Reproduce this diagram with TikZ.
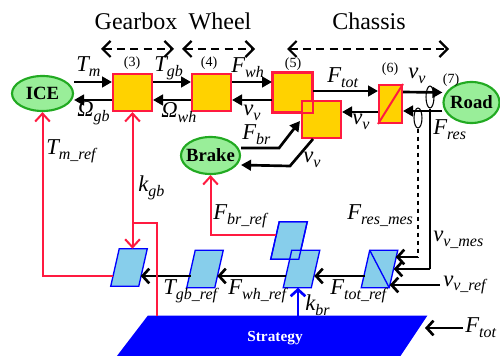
\documentclass[tikz,border=0pt]{standalone}
\usepackage{fontspec}
\setmainfont{Liberation Serif}
\usetikzlibrary{arrows.meta,shapes.geometric,calc}
\definecolor{boxy}{HTML}{FFD200}
\definecolor{boxr}{HTML}{FF1A40}
\definecolor{gfill}{HTML}{99EE99}
\definecolor{gline}{HTML}{22AA22}
\definecolor{pgfillc}{HTML}{87CEEB}
\definecolor{bluec}{HTML}{0000FF}
\definecolor{redln}{HTML}{FF1A40}
\newcommand\lbl[2]{{\fontsize{17}{18}\selectfont\itshape #1\raisebox{-0.22em}{\fontsize{12}{12}\selectfont #2}}}
\newcommand\pgdraw[1]{\draw[fill=pgfillc, draw=bluec, line width=1pt] (#1.south west) -- ($(#1.north west)+(8.5,0)$) -- (#1.north east) -- ($(#1.south east)+(-8.5,0)$) -- cycle;}
\begin{document}
\begin{tikzpicture}[x=0.75pt,y=-0.75pt,
  blk/.style={rectangle, fill=boxy, draw=boxr, line width=1.5pt, inner sep=0pt},
  ell/.style={ellipse, fill=gfill, draw=gline, line width=1.6pt, inner sep=0pt},
  etxt/.style={font=\fontsize{14}{16}\selectfont\bfseries, inner sep=0pt},
  pgm/.style={rectangle, inner sep=0pt, minimum width=27pt, minimum height=27.75pt},
  fa/.style={line width=2pt, -{Triangle[length=7.5pt,width=8pt]}},
  ba/.style={line width=2pt, -{Straight Barb[length=5pt,width=11pt]}},
  rline/.style={draw=redln, line width=1.5pt},
  ra/.style={rline, -{Straight Barb[length=6pt,width=11pt]}},
  hdr/.style={font=\fontsize{18}{20}\selectfont},
  num/.style={font=\fontsize{10.5}{12}\selectfont},
  lb/.style={anchor=west, inner sep=0pt},
  darr/.style={line width=1.6pt, dash pattern=on 6pt off 4pt, {Straight Barb[length=6pt,width=12pt]}-{Straight Barb[length=6pt,width=12pt]}},
  sens/.style={ellipse, draw, line width=0.8pt, inner sep=0pt}
]
\useasboundingbox (0,0) rectangle (500,356);

% headers
\node[hdr] (hg) at (136,21) {Gearbox};
\node[hdr] (hw) at (220,21) {Wheel};
\node[hdr] (hc) at (369,21) {Chassis};
\coordinate (g1) at (101,49); \coordinate (g2) at (174,49);
\coordinate (w1) at (182,49); \coordinate (w2) at (255,49);
\coordinate (c1) at (287,49); \coordinate (c2) at (449,49);
\draw[darr] (g1) -- (g2);
\draw[darr] (w1) -- (w2);
\draw[darr] (c1) -- (c2);

% main blocks
\node[ell, minimum width=45.75pt, minimum height=26.25pt] (ice) at (42.5,93.5) {};
\node[etxt] (icet) at (ice) {ICE};
\node[blk, minimum width=29.25pt, minimum height=27.75pt] (b3) at (132.5,92.5) {};
\node[blk, minimum width=29.25pt, minimum height=27.75pt] (b4) at (211.5,92.5) {};
\node[blk, minimum width=29.25pt, minimum height=29.25pt] (b5) at (292.5,92.5) {};
\node[blk, minimum width=29.25pt, minimum height=27.75pt] (b5b) at (321.5,119.5) {};
\draw[draw=boxr, line width=1.5pt] (b5.south west) rectangle (b5.north east);
\node[blk, minimum width=17.25pt, minimum height=28.5pt] (b6) at (390.5,104) {};
\draw[draw=boxr, line width=1.5pt] (b6.south west) -- (b6.north east);
\node[ell, minimum width=42pt, minimum height=30.75pt] (road) at (471.5,102.5) {};
\node[etxt] (roadt) at (road) {Road};
\node[ell, minimum width=44.25pt, minimum height=27.75pt] (brake) at (210.5,155.5) {};
\node[etxt] (braket) at (brake) {Brake};

% numbers
\node[num] (n3) at (132,63) {(3)};
\node[num] (n4) at (209,63) {(4)};
\node[num] (n5) at (293,64) {(5)};
\node[num] (n6) at (390,69) {(6)};
\node[num] (n7) at (451,80) {(7)};

% physical arrows
\draw[fa] ($(ice.east)+(0,-11.5)$) -- ($(b3.west)+(0,-10.5)$);
\draw[fa] ($(b3.west)+(0,7.5)$) -- ($(ice.east)+(0,6.5)$);
\draw[fa] ($(b3.east)+(0,-10.5)$) -- ($(b4.west)+(0,-10.5)$);
\draw[fa] ($(b4.west)+(0,7.5)$) -- ($(b3.east)+(0,7.5)$);
\draw[fa] ($(b4.east)+(0,-10.5)$) -- ($(b5.west)+(0,-10.5)$);
\draw[fa] ($(b5.west)+(0,7.5)$) -- ($(b4.east)+(0,7.5)$);
\draw[fa] ($(b5.east)+(0,-1.5)$) -- ($(b6.west)+(0,-13)$);
\draw[fa] ($(b6.west)+(0,8)$) -- ($(b5b.east)+(0,-7.5)$);
\draw[fa] ($(b6.east)+(0,-12)$) -- ($(road.west)+(0,-10)$);
\draw[fa] ($(road.west)+(0,8.5)$) -- ($(b6.east)+(0,7)$);
\draw[fa] ($(brake.east)+(0,-7.5)$) -- ++(38,0) -- ($(b5b.west)+(-1,1.5)$);
\draw[fa] ($(b5b.south)+(-8.5,0)$) -- ++(-23,27) -- ($(brake.east)+(0,9.5)$);

% sensors
\node[sens, minimum width=6pt, minimum height=16.5pt] (s1) at (430,97) {};
\node[sens, minimum width=6pt, minimum height=15pt] (s2) at (418,118) {};

% parallelograms
\node[pgm] (pg1) at (129,267.5) {};
\node[pgm] (pg2) at (205,269) {};
\node[pgm] (pg3) at (289,240.5) {};
\node[pgm] (pg4) at (301.5,269) {};
\node[pgm] (ftr) at (379.5,269) {};
\pgdraw{pg1}
\pgdraw{pg2}
\pgdraw{pg3}
\pgdraw{pg4}
\draw[draw=bluec, line width=1pt] (pg3.south west) -- ($(pg3.north west)+(8.5,0)$) -- (pg3.north east) -- ($(pg3.south east)+(-8.5,0)$) -- cycle;
\pgdraw{ftr}
\draw[draw=bluec, line width=1pt] ($(ftr.north west)+(8.5,0)$) -- ($(ftr.south east)+(-8.5,0)$);

% strategy
\node[rectangle, inner sep=0pt, minimum width=232.5pt, minimum height=30pt] (strat) at (272,336) {};
\fill[bluec] (strat.south west) -- ($(strat.north west)+(31,0)$) -- (strat.north east) -- ($(strat.south east)+(-27,0)$) -- cycle;
\node[text=white, font=\fontsize{11.5}{13}\selectfont\bfseries] (stratt) at (275,338) {Strategy};

% control arrows
\draw[ba] ($(ftr.west)+(3.5,7)$) -- ($(pg4.east)+(-5.5,7)$);
\draw[ba] ($(pg4.west)+(3,7)$) -- ($(pg2.east)+(-6,7)$);
\draw[ba] ($(pg2.west)+(4,7)$) -- ($(pg1.east)+(-6.5,8.5)$);

\draw[ra] ($(pg1.west)+(2,8.5)$) -| (ice.south);
\draw[rline, {Straight Barb[length=6pt,width=11pt]}-{Straight Barb[length=6pt,width=11pt]}] (b3.south) -- (b3.south |- pg1.north);
\coordinate (kj) at (b3.south |- 0,223);
\coordinate (sk) at (157,316);
\draw[rline] (sk) |- (kj);
\draw[ra] ($(pg3.west)+(5,-5.5)$) -| (brake.south);

\coordinate (kbtop) at ($(pg4.south)+(-3.5,0)$);
\coordinate (kbbot) at (kbtop |- strat.north);
\draw[draw=bluec, line width=2pt, -{Straight Barb[length=5pt,width=11pt]}] (kbbot) -- (kbtop);

\coordinate (m1) at (s1.south |- ftr.east);
\draw[line width=1pt] (s1.south) -- (m1);
\draw[ba] (m1) -- ($(ftr.east)+(-4,0)$);
\coordinate (m2) at (s2.south |- 0,257);
\draw[line width=0.8pt, dashed] (s2.south) -- (m2);
\draw[ba] (m2) -- ($(ftr.east)+(-2,-12)$);
\coordinate (vref) at (440,285);
\draw[ba] (vref) -- ($(ftr.east)+(-8,16)$);
\coordinate (ftin) at (463,328);
\coordinate (ftend) at (425,328);
\draw[ba] (ftin) -- (ftend);

% labels
\node[lb] (l1) at (76,67) {\lbl{T}{m}};
\node[lb] (l2) at (77,113) {\lbl{Ω}{gb}};
\node[lb] (l3) at (154,68) {\lbl{T}{gb}};
\node[lb] (l4) at (161,113) {\lbl{Ω}{wh}};
\node[lb] (l5) at (231,68) {\lbl{F}{wh}};
\node[lb] (l6) at (243,113) {\lbl{v}{v}};
\node[lb] (l7) at (327,78) {\lbl{F}{tot}};
\node[lb] (l8) at (352,122) {\lbl{v}{v}};
\node[lb] (l9) at (408,76) {\lbl{v}{v}};
\node[lb] (l10) at (433,130) {\lbl{F}{res}};
\node[lb] (l11) at (242,135) {\lbl{F}{br}};
\node[lb] (l12) at (303,160) {\lbl{v}{v}};
\node[lb] (l13) at (46,151) {\lbl{T}{m\_ref}};
\node[lb] (l14) at (138,188) {\lbl{k}{gb}};
\node[lb] (l15) at (213,216) {\lbl{F}{br\_ref}};
\node[lb] (l16) at (347,216) {\lbl{F}{res\_mes}};
\node[lb] (l17) at (433,240) {\lbl{v}{v\_mes}};
\node[lb] (l18) at (443,285) {\lbl{v}{v\_ref}};
\node[lb] (l19) at (163,291) {\lbl{T}{gb\_ref}};
\node[lb] (l20) at (228,291) {\lbl{F}{wh\_ref}};
\node[lb] (l21) at (330,291) {\lbl{F}{tot\_ref}};
\node[lb] (l22) at (305,305) {\lbl{k}{br}};
\node[lb] (l23) at (465,328) {\lbl{F}{tot}};
\end{tikzpicture}
\end{document}
